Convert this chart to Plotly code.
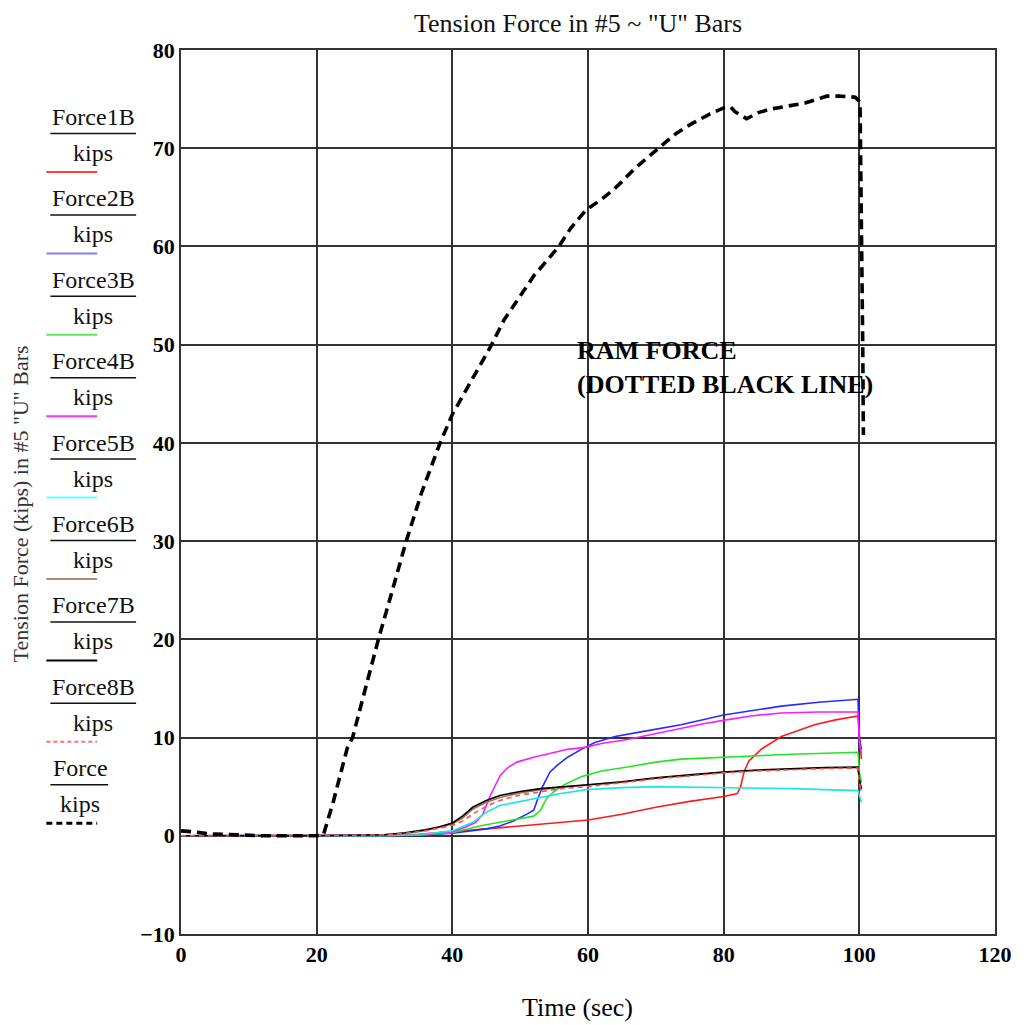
import plotly.graph_objects as go

# ---------------- data ----------------
t_f1 = [0, 10, 20, 30, 35, 40, 45, 50, 55, 60, 65, 70, 75, 80, 82.0, 82.5, 83.0, 83.7, 85.5, 88.5, 93.4, 96.5, 99.8, 100, 100.3]
force1b = [0, 0, 0, 0.05, 0.15, 0.4, 0.7, 1.0, 1.3, 1.6, 2.2, 2.9, 3.5, 4.0, 4.3, 5.0, 6.5, 7.6, 8.8, 10.1, 11.3, 11.8, 12.2, 10.0, 7.8]

t_f2 = [0, 10, 20, 30, 35, 40, 45, 47, 49, 51, 52, 52.5, 53.3, 54.4, 55.5, 57, 59, 61, 64, 68, 73.7, 80, 85, 88.5, 94, 99.8, 100, 100.3]
force2b = [0, 0, 0, 0, 0.05, 0.25, 0.7, 1.0, 1.5, 2.2, 2.6, 3.6, 5.0, 6.5, 7.2, 8.0, 8.8, 9.5, 10.1, 10.6, 11.3, 12.3, 12.8, 13.2, 13.6, 13.9, 10.0, 8.8]

t_f3 = [0, 10, 20, 30, 35, 40, 44, 48, 52, 53, 53.9, 55, 56.5, 59, 62, 65.8, 70, 73.7, 80, 85, 90, 95, 99.8, 100, 100.3]
force3b = [0, 0, 0, 0, 0.05, 0.3, 1.0, 1.5, 2.0, 2.6, 3.8, 4.5, 5.2, 6.0, 6.6, 7.0, 7.5, 7.8, 8.0, 8.2, 8.3, 8.4, 8.5, 6.5, 5.4]

t_f4 = [0, 10, 20, 30, 35, 40, 42, 43.5, 44.5, 45.6, 47.1, 48.3, 49.5, 52, 54.4, 57, 59.5, 62, 65.8, 70, 73.7, 77, 80.4, 84, 88.5, 94, 99.8, 100, 100.3]
force4b = [0, 0, 0, 0, 0.05, 0.4, 0.9, 1.4, 2.2, 4.1, 6.2, 7.0, 7.5, 8.0, 8.4, 8.8, 9.0, 9.4, 9.8, 10.4, 11.0, 11.4, 11.8, 12.2, 12.5, 12.6, 12.6, 9.5, 8.3]

t_f5 = [0, 10, 20, 30, 35, 40, 43.1, 45, 47.1, 50, 52, 56, 59.8, 65, 70, 80, 90, 99.8, 100, 100.3]
force5b = [0, 0, 0, 0, 0.1, 0.5, 1.4, 2.4, 3.1, 3.5, 3.8, 4.3, 4.7, 4.9, 5.0, 4.9, 4.8, 4.6, 4.0, 3.4]

t_f678 = [0, 10, 20, 30, 33, 36, 38, 40, 41.5, 43, 45, 47, 50, 53, 56, 60, 65, 70, 75, 80, 85, 90, 95, 99.8, 100, 100.3]
force6b = [0, 0, 0, 0.1, 0.25, 0.55, 0.85, 1.2, 1.8, 2.7, 3.4, 3.9, 4.35, 4.7, 4.95, 5.15, 5.45, 5.85, 6.15, 6.45, 6.65, 6.8, 6.9, 6.95, 5.6, 4.6]
force7b = [0, 0, 0, 0.1, 0.3, 0.6, 0.9, 1.3, 2.0, 2.9, 3.6, 4.1, 4.5, 4.8, 5.0, 5.2, 5.5, 5.9, 6.2, 6.5, 6.7, 6.85, 6.95, 7.0, 5.8, 4.8]
force8b = [0, 0, 0, 0.1, 0.25, 0.5, 0.75, 1.05, 1.5, 2.2, 3.0, 3.6, 4.15, 4.5, 4.8, 5.0, 5.4, 5.8, 6.1, 6.4, 6.6, 6.75, 6.85, 6.9, 5.4, 4.5]

t_ram = [0, 2, 4, 8, 12, 16, 20, 21, 22.5, 24.5, 25.3, 27, 29.1, 31, 33.2, 35.5, 38.2, 40, 43, 45.8, 47.6, 50, 52, 54,
         55.7, 57.5, 59.7, 62, 63.8, 65, 67, 70.4, 73, 75.3, 78, 80, 81, 81.7, 83.4, 85, 87, 92, 95.2, 97, 99.4, 100.1,
         100.3, 100.5, 100.6]
force_ram = [0.5, 0.4, 0.2, 0.1, 0, 0, 0, 0.1, 3.6, 8.9, 10, 14.5, 20, 24.6, 30, 35, 40, 42.9, 46.5, 50, 52.5, 55, 57,
             58.6, 60, 61.9, 63.7, 64.8, 65.8, 66.6, 68, 70, 71.5, 72.5, 73.5, 74.1, 74.2, 73.7, 73.0, 73.6, 74.0, 74.6,
             75.3, 75.3, 75.2, 74.7, 65, 50, 40.8]

series_names = ["Force1B", "Force2B", "Force3B", "Force4B", "Force5B", "Force6B", "Force7B", "Force8B", "Force"]
x_ticks = [0, 20, 40, 60, 80, 100, 120]
y_ticks = [-10, 0, 10, 20, 30, 40, 50, 60, 70, 80]

# ---------------- styles ----------------
styles = [
    dict(color="#ff1a1a", width=1.6, dash="solid"),
    dict(color="#2a2aff", width=1.6, dash="solid"),
    dict(color="#22e622", width=1.6, dash="solid"),
    dict(color="#ff1aff", width=1.6, dash="solid"),
    dict(color="#1ae6e6", width=1.6, dash="solid"),
    dict(color="#a0705a", width=1.6, dash="solid"),
    dict(color="#000000", width=1.6, dash="solid"),
    dict(color="#ff4d4d", width=1.6, dash="5px,4px"),
    dict(color="#000000", width=3.6, dash="10px,6px"),
]
legend_line_colors = ["#ff4040", "#7f7fff", "#55ee55", "#ff33ff", "#66ffff", "#b08878", "#000000", "#ff7070", "#000000"]

xs = [t_f1, t_f2, t_f3, t_f4, t_f5, t_f678, t_f678, t_f678, t_ram]
ys = [force1b, force2b, force3b, force4b, force5b, force6b, force7b, force8b, force_ram]

FONT = "Liberation Serif"
OFF = 8  # page body margin
W, H = 1016, 1017
L, R, T, B = 173, 27, 42, 91
PW, PH = W - L - R, H - T - B


def px(x):
    return (x - OFF - L) / PW


def py(y):
    return (H - B - (y - OFF)) / PH


fig = go.Figure()
for name, x, y, st in zip(series_names, xs, ys, styles):
    fig.add_trace(go.Scatter(x=x, y=y, mode="lines", name=name, showlegend=False,
                             line=dict(color=st["color"], width=st["width"], dash=st["dash"])))

annotations = []
shapes = []

# custom Mathcad-style legend (name over "kips")
for i, name in enumerate(series_names):
    base = 117 + 81.4 * i
    is_last = name == "Force"
    cx = 80 if is_last else 93
    bar_x1 = 108 if is_last else 136
    annotations.append(dict(x=px(cx), y=py(base), xref="paper", yref="paper", text=name, showarrow=False,
                            xanchor="center", yanchor="middle", font=dict(family=FONT, size=24, color="#111")))
    annotations.append(dict(x=px(cx), y=py(base + 36), xref="paper", yref="paper", text="kips", showarrow=False,
                            xanchor="center", yanchor="middle", font=dict(family=FONT, size=24, color="#111")))
    shapes.append(dict(type="line", xref="paper", yref="paper", x0=px(50), x1=px(bar_x1),
                       y0=py(base + 16.5), y1=py(base + 16.5), line=dict(color="#111", width=1.5)))
    lw = 3 if is_last else 2
    shapes.append(dict(type="line", xref="paper", yref="paper", x0=px(46), x1=px(97),
                       y0=py(base + 55), y1=py(base + 55),
                       line=dict(color=legend_line_colors[i], width=lw,
                                 dash=("6px,4px" if is_last else ("4px,3px" if name == "Force8B" else "solid")))))

annotations.append(dict(x=px(576), y=py(334), xref="paper", yref="paper",
                        text="RAM FORCE<br>(DOTTED BLACK LINE)", showarrow=False, align="left",
                        xanchor="left", yanchor="top",
                        font=dict(family=FONT, size=26, color="#000", weight="bold")))

annotations.append(dict(x=px(21), y=py(504), xref="paper", yref="paper",
                        text='Tension Force (kips) in #5 "U" Bars', textangle=-90, showarrow=False,
                        xanchor="center", yanchor="middle", font=dict(family=FONT, size=22, color="#333")))

annotations.append(dict(x=px(578), y=py(1008), xref="paper", yref="paper", text="Time (sec)", showarrow=False,
                        xanchor="center", yanchor="middle", font=dict(family=FONT, size=26, color="#000")))

annotations.append(dict(x=px(579), y=py(23), xref="paper", yref="paper", text='Tension Force in #5 ~ "U" Bars',
                        showarrow=False, xanchor="center", yanchor="middle",
                        font=dict(family=FONT, size=26, color="#111")))

fig.update_layout(
    width=W, height=H,
    margin=dict(l=L, r=R, t=T, b=B, pad=0),
    paper_bgcolor="white", plot_bgcolor="white",
    annotations=annotations, shapes=shapes,
    showlegend=False,
)
fig.update_xaxes(range=[0, 120], tickvals=x_ticks, ticktext=[str(v) for v in x_ticks],
                 showgrid=True, gridcolor="#333", gridwidth=1.5, zeroline=False,
                 showline=True, linecolor="#333", linewidth=1.5, mirror=True, ticks="",
                 tickfont=dict(family=FONT, size=22, color="#000", weight="bold"))
fig.update_yaxes(range=[-10, 80], tickvals=y_ticks, ticktext=[("\u221210" if v < 0 else str(v)) for v in y_ticks],
                 showgrid=True, gridcolor="#333", gridwidth=1.5, zeroline=False,
                 showline=True, linecolor="#333", linewidth=1.5, mirror=True, ticks="",
                 tickfont=dict(family=FONT, size=22, color="#000", weight="bold"))

fig.write_html("out.html")
